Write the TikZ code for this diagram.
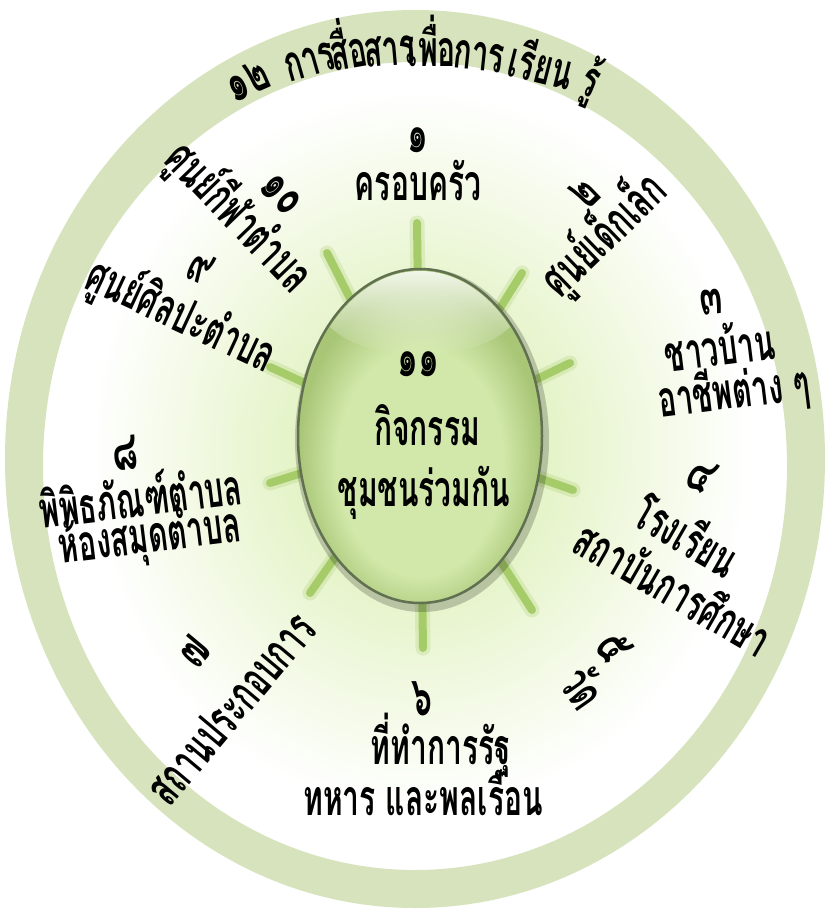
\documentclass[tikz,border=0pt]{standalone}
\usepackage{fontspec}
\newfontfamily\thai[Script=Thai,FakeStretch=0.6]{Loma}
\usetikzlibrary{fadings}
\definecolor{ringc}{RGB}{214,227,189}
\definecolor{rayc}{RGB}{165,204,105}
\definecolor{glowc}{RGB}{212,236,165}
\definecolor{eggin}{RGB}{210,232,170}
\definecolor{eggedge}{RGB}{168,198,118}
\definecolor{eggline}{RGB}{96,112,80}
\pgfdeclareradialshading{eggshade}{\pgfpoint{0bp}{-6bp}}{color(0bp)=(eggin); color(17bp)=(eggin); color(25bp)=(eggedge); color(50bp)=(eggedge)}
\tikzset{
 lbl/.style={font=\thai\bfseries\fontsize{50}{54}\selectfont, inner sep=0pt, text height=27pt, text depth=0pt},
 num/.style={font=\thai\bfseries\fontsize{55}{58}\selectfont, inner sep=0pt, text height=19pt, text depth=0pt},
 raybar/.style={line width=8pt, draw=rayc, line cap=round},
 rayglow/.style={line width=15pt, draw=rayc, opacity=0.25, line cap=round},
}
\begin{document}
\begin{tikzpicture}[x=1pt,y=-1pt]
\useasboundingbox (0,0) rectangle (829,913);
\fill[white] (0,0) rectangle (829,913);
% glow
\shade[inner color=glowc, outer color=white] (420,450) ellipse (330 and 360);
% ring
\fill[ringc, even odd rule] (415,459) ellipse (410 and 449) (415,466) ellipse (372 and 404);
% rays
\coordinate (c) at (420,436);
\foreach \p in {(417,223),(522,273),(570,363),(573,490),(532,610),(423,648),(310,593),(270,483),(270,367),(327,253)}{
  \draw[rayglow] (c) -- \p;
  \draw[raybar] (c) -- \p;
}
% egg
\fill[black, opacity=0.2] (422,440) ellipse (127 and 172);
\shade[shading=eggshade] (420,436) ellipse (122 and 167);
\begin{scope}
  \clip (420,436) ellipse (120 and 165);
  \fill[white, path fading=south] (420,305) ellipse (100 and 50);
\end{scope}
\draw[eggline, line width=2.5pt] (420,436) ellipse (122 and 167);
% centre labels
\node[num] (c1) at (418,367) {๑๑};
\node[lbl] (c2) at (427,432) {กิจกรรม};
\node[lbl] (c3) at (424,493) {ชุมชนร่วมกัน};
% 1
\node[num] (a1) at (418,143) {๑};
\node[lbl] (a2) at (418,187) {ครอบครัว};
% 2
\node[num, rotate=44] (b1) at (589,197) {๒};
\node[lbl, rotate=44] (b2) at (606,237) {ศูนย์เด็กเล็ก};
% 3
\node[num, rotate=6] (d1) at (712,305) {๓};
\node[lbl, rotate=7] (d2) at (720,352) {ชาวบ้าน};
\node[lbl, rotate=7] (d3) at (734,395) {อาชีพต่าง ๆ};
% 4
\node[num, rotate=-30] (e1) at (698,482) {๔};
\node[lbl, rotate=-30] (e2) at (684,540) {โรงเรียน};
\node[lbl, rotate=-30] (e3) at (671,593) {สถาบันการศึกษา};
% 5
\node[num, rotate=-55] (f1) at (608,651) {๕};
\node[lbl, rotate=-55] (f2) at (579,691) {วัด};
% 6
\node[num] (g1) at (422,706) {๖};
\node[lbl] (g2) at (441,751) {ที่ทำการรัฐ};
\node[lbl] (g3) at (423,802) {ทหาร และพลเรือน};
% 7
\node[num, rotate=50] (h1) at (198,655) {๗};
\node[lbl, rotate=50] (h2) at (234,711) {สถานประกอบการ};
% 8
\node[num, rotate=7] (i1) at (126,461) {๘};
\node[lbl, rotate=7] (i2) at (141,503) {พิพิธภัณฑ์ตำบล};
\node[lbl, rotate=7] (i3) at (150,539) {ห้องสมุดตำบล};
% 9
\node[num, rotate=-25] (j1) at (198,273) {๙};
\node[lbl, rotate=-25] (j2) at (180,318) {ศูนย์ศิลปะตำบล};
% 10
\node[num, rotate=-46] (k1) at (279,197) {๑๐};
\node[lbl, rotate=-46] (k2) at (237,219) {ศูนย์กีฬาตำบล};
% 12 ring text
\node[num, rotate=24] (r1) at (250,86) {๑๒};
\node[lbl, rotate=16] (r2) at (310,62) {การ};
\node[lbl, rotate=10] (r3) at (349,55) {สื่อ};
\node[lbl, rotate=5] (r4) at (390,52) {สาร};
\node[lbl, rotate=0] (r5) at (432,53) {เพื่อ};
\node[lbl, rotate=-6] (r6) at (479,57) {การ};
\node[lbl, rotate=-14] (r7) at (540,70) {เรียน};
\node[lbl, rotate=-22] (r8) at (590,83) {รู้};
\end{tikzpicture}
\end{document}
